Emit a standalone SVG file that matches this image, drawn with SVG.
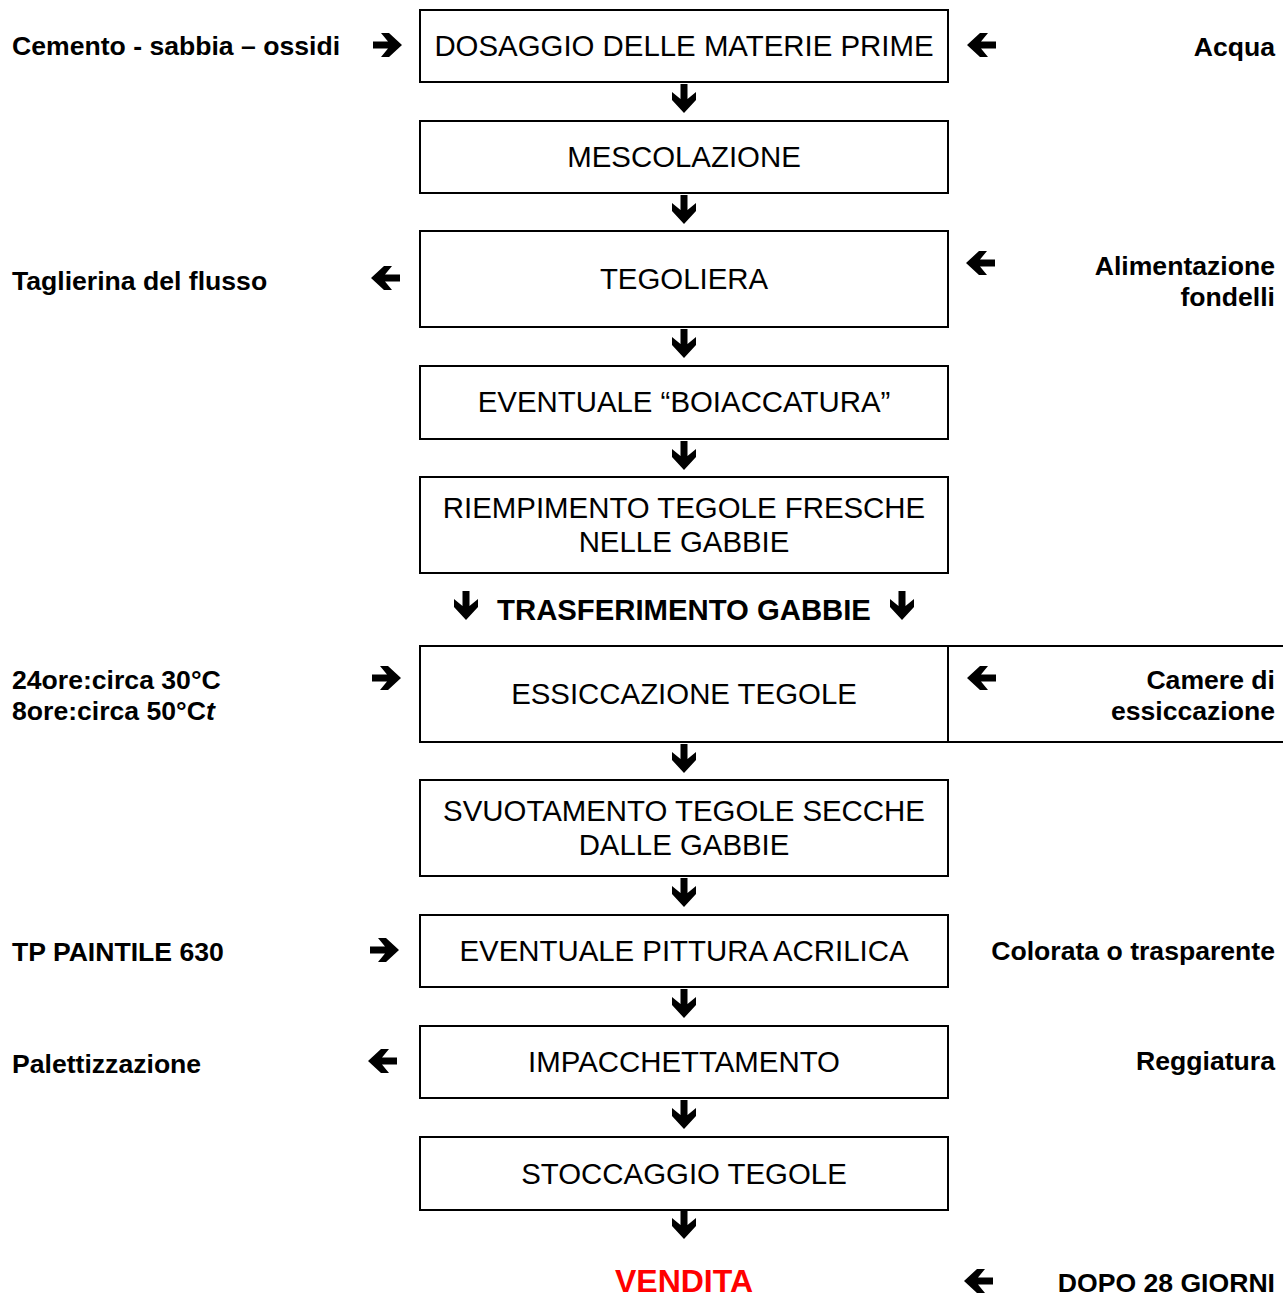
<svg xmlns="http://www.w3.org/2000/svg" xmlns:xlink="http://www.w3.org/1999/xlink" width="1283" height="1297" viewBox="0 0 1283 1297">
<style>
.box{fill:#fff;stroke:#000;stroke-width:2}
.bt{font-family:"Liberation Sans",Arial,sans-serif;font-size:29.4px;fill:#000;text-anchor:middle}
.lb{font-family:"Liberation Sans",Arial,sans-serif;font-size:26.6px;font-weight:bold;fill:#000}
.r{text-anchor:end}
.ln{fill:none;stroke:#000;stroke-width:2}
.arr{fill:#000}
</style>
<defs>
<path id="a" d="M0,-3.5 L15,-3.5 L8,-12 L16,-12 L29,0 L16,12 L8,12 L15,3.5 L0,3.5 Z"/>
</defs>
<rect width="1283" height="1297" fill="#fff"/>

<g id="n1"><rect class="box" x="420" y="10" width="528" height="72"/><text class="bt" x="684" y="56">DOSAGGIO DELLE MATERIE PRIME</text></g>
<g id="n2"><rect class="box" x="420" y="121" width="528" height="72"/><text class="bt" x="684" y="167">MESCOLAZIONE</text></g>
<g id="n3"><rect class="box" x="420" y="231" width="528" height="96"/><text class="bt" x="684" y="289">TEGOLIERA</text></g>
<g id="n4"><rect class="box" x="420" y="366" width="528" height="73"/><text class="bt" x="684" y="412">EVENTUALE “BOIACCATURA”</text></g>
<g id="n5"><rect class="box" x="420" y="477" width="528" height="96"/><text class="bt" x="684" y="518">RIEMPIMENTO TEGOLE FRESCHE</text><text class="bt" x="684" y="552">NELLE GABBIE</text></g>
<g id="n6"><text class="lb" x="684" y="620" text-anchor="middle" style="font-size:29.3px">TRASFERIMENTO GABBIE</text></g>
<g id="n7"><rect class="box" x="420" y="646" width="528" height="96"/><text class="bt" x="684" y="704">ESSICCAZIONE TEGOLE</text><path class="ln" d="M948,646 H1283 M948,742 H1283"/></g>
<g id="n8"><rect class="box" x="420" y="780" width="528" height="96"/><text class="bt" x="684" y="821">SVUOTAMENTO TEGOLE SECCHE</text><text class="bt" x="684" y="855">DALLE GABBIE</text></g>
<g id="n9"><rect class="box" x="420" y="915" width="528" height="72"/><text class="bt" x="684" y="961">EVENTUALE PITTURA ACRILICA</text></g>
<g id="n10"><rect class="box" x="420" y="1026" width="528" height="72"/><text class="bt" x="684" y="1072">IMPACCHETTAMENTO</text></g>
<g id="n11"><rect class="box" x="420" y="1137" width="528" height="73"/><text class="bt" x="684" y="1184">STOCCAGGIO TEGOLE</text></g>
<g id="n12"><text x="684" y="1292" text-anchor="middle" style="font-family:'Liberation Sans',Arial,sans-serif;font-size:32px;font-weight:bold;fill:#ff0000">VENDITA</text></g>

<g id="l1"><text class="lb" x="12" y="55">Cemento - sabbia – ossidi</text></g>
<g id="l2"><text class="lb r" x="1275" y="56">Acqua</text></g>
<g id="l3"><text class="lb" x="12" y="290">Taglierina del flusso</text></g>
<g id="l4"><text class="lb r" x="1275" y="275">Alimentazione</text><text class="lb r" x="1275" y="306">fondelli</text></g>
<g id="l5"><text class="lb" x="12" y="689">24ore:circa 30°C</text><text class="lb" x="12" y="720">8ore:circa 50°C<tspan font-style="italic">t</tspan></text></g>
<g id="l6"><text class="lb r" x="1275" y="689">Camere di</text><text class="lb r" x="1275" y="720">essiccazione</text></g>
<g id="l7"><text class="lb" x="12" y="961">TP PAINTILE 630</text></g>
<g id="l8"><text class="lb r" x="1275" y="960">Colorata o trasparente</text></g>
<g id="l9"><text class="lb" x="12" y="1073">Palettizzazione</text></g>
<g id="l10"><text class="lb r" x="1275" y="1070">Reggiatura</text></g>
<g id="l11"><text class="lb r" x="1275" y="1292">DOPO 28 GIORNI</text></g>

<g id="connectors" class="arr">
<use xlink:href="#a" href="#a" transform="translate(684,84) rotate(90)"/>
<use xlink:href="#a" href="#a" transform="translate(684,195) rotate(90)"/>
<use xlink:href="#a" href="#a" transform="translate(684,329) rotate(90)"/>
<use xlink:href="#a" href="#a" transform="translate(684,441) rotate(90)"/>
<use xlink:href="#a" href="#a" transform="translate(466,591) rotate(90)"/>
<use xlink:href="#a" href="#a" transform="translate(902,591) rotate(90)"/>
<use xlink:href="#a" href="#a" transform="translate(684,744) rotate(90)"/>
<use xlink:href="#a" href="#a" transform="translate(684,878) rotate(90)"/>
<use xlink:href="#a" href="#a" transform="translate(684,989) rotate(90)"/>
<use xlink:href="#a" href="#a" transform="translate(684,1100) rotate(90)"/>
<use xlink:href="#a" href="#a" transform="translate(684,1210) rotate(90)"/>
<use xlink:href="#a" href="#a" transform="translate(373,45)"/>
<use xlink:href="#a" href="#a" transform="translate(996,45) rotate(180)"/>
<use xlink:href="#a" href="#a" transform="translate(400,278) rotate(180)"/>
<use xlink:href="#a" href="#a" transform="translate(995,263) rotate(180)"/>
<use xlink:href="#a" href="#a" transform="translate(372,678)"/>
<use xlink:href="#a" href="#a" transform="translate(996,678) rotate(180)"/>
<use xlink:href="#a" href="#a" transform="translate(370,950)"/>
<use xlink:href="#a" href="#a" transform="translate(397,1061) rotate(180)"/>
<use xlink:href="#a" href="#a" transform="translate(993,1281) rotate(180)"/>
</g>
</svg>
